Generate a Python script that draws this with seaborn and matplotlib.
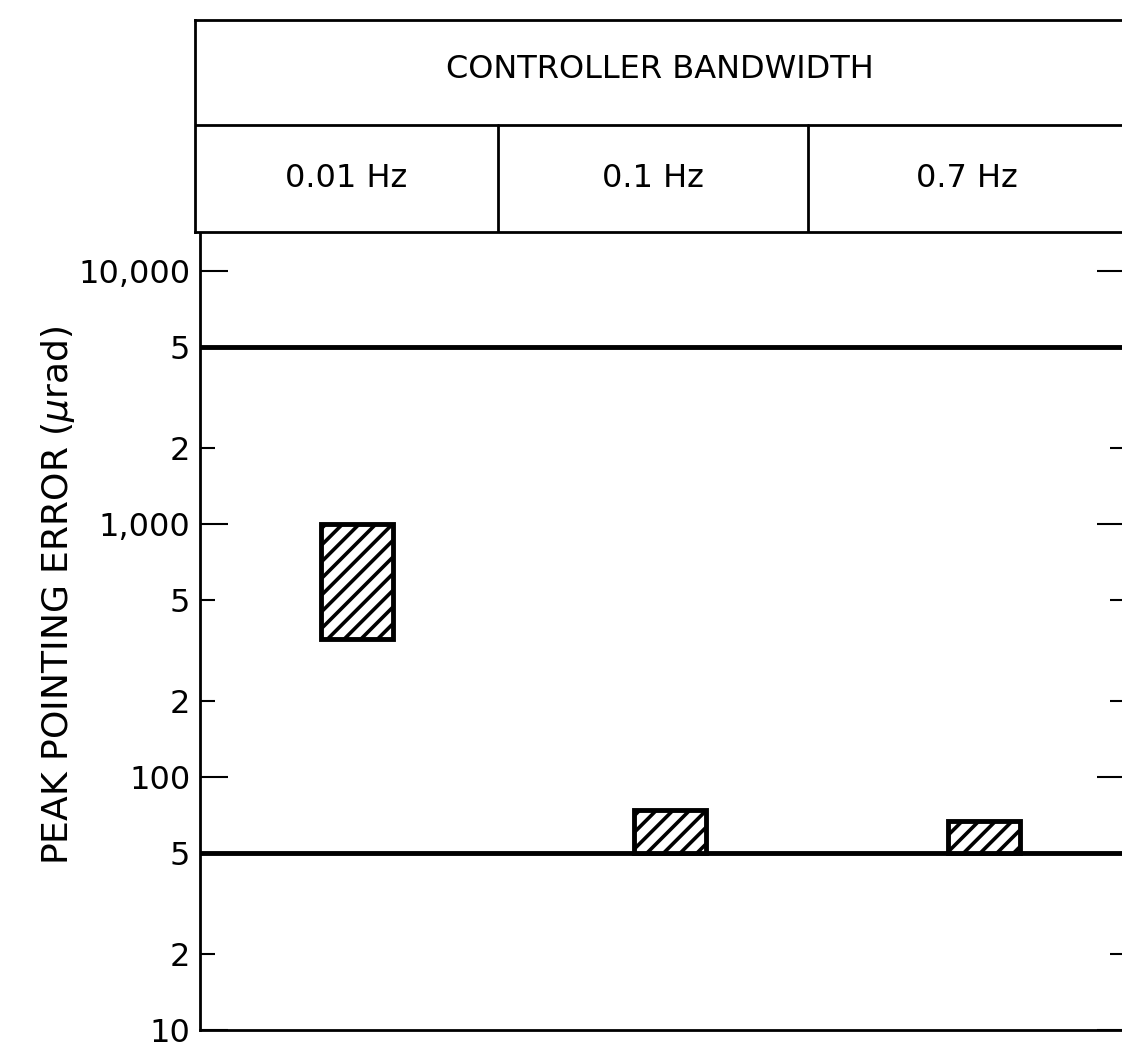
import matplotlib
matplotlib.use("Agg")
import matplotlib.pyplot as plt
import numpy as np
import pandas as pd
import seaborn as sns
from matplotlib.ticker import FixedLocator, FixedFormatter

sns.set_style("ticks")
plt.rcParams['font.family'] = ['DejaVu Sans']
plt.rcParams['hatch.linewidth'] = 2.6
plt.rcParams['hatch.color'] = 'black'
plt.rcParams['text.color'] = 'black'
plt.rcParams['axes.labelcolor'] = 'black'
plt.rcParams['ytick.color'] = 'black'
plt.rcParams['xtick.color'] = 'black'

# --- data ---
bandwidths = ['0.01 Hz', '0.1 Hz', '0.7 Hz']
error_low = [350, 50, 50]        # bottom of each error band (urad)
error_high = [1000, 74, 67]      # top of each error band (urad)
limit_lines = [50, 5000]         # heavy horizontal reference lines

major_ticks = [10, 100, 1000, 10000]
major_labels = ['10', '100', '1,000', '10,000']
minor_ticks = [20, 50, 200, 500, 2000, 5000]
minor_labels = ['2', '5', '2', '5', '2', '5']

header_title = 'CONTROLLER BANDWIDTH'

df = pd.DataFrame({'Bandwidth': bandwidths, 'Low': error_low, 'High': error_high})
df['Span'] = df['High'] - df['Low']

W, H = 1122, 1048
fig = plt.figure(figsize=(W / 100, H / 100), dpi=100)

# -------------------------------------------------------------------
# main plot
# -------------------------------------------------------------------
ax = fig.add_axes([200 / W, 18 / H, 925 / W, 798 / H])
ax.set_yscale('log')

sns.barplot(
    data=df, x='Bandwidth', y='Span',
    bottom=np.array(error_low, dtype=float),
    width=0.23, errorbar=None, color='white', saturation=1,
    facecolor='white', edgecolor='black', linewidth=3.5, hatch='//',
    ax=ax, zorder=3,
)

for v in limit_lines:
    ax.axhline(v, color='black', lw=3.5, zorder=2)

ax.set_xlim(-0.5, 2.45)
ax.set_ylim(10, 14260)
ax.set_xticks([])
ax.set_xlabel('')

ax.yaxis.set_major_locator(FixedLocator(major_ticks))
ax.yaxis.set_major_formatter(FixedFormatter(major_labels))
ax.yaxis.set_minor_locator(FixedLocator(minor_ticks))
ax.yaxis.set_minor_formatter(FixedFormatter(minor_labels))
ax.tick_params(axis='y', which='major', direction='in', length=20, width=1.5,
               labelsize=23, left=True, right=True, pad=7, color='black')
ax.tick_params(axis='y', which='minor', direction='in', length=11, width=1.5,
               labelsize=23, left=True, right=True, pad=7, color='black')

ax.set_ylabel(r'PEAK POINTING ERROR ($\mu$rad)', fontsize=26)
ax.yaxis.set_label_coords(-0.133, 0.545)

for side in ['left', 'bottom', 'right']:
    ax.spines[side].set_linewidth(2)
    ax.spines[side].set_color('black')
ax.spines['top'].set_visible(False)

# -------------------------------------------------------------------
# header table
# -------------------------------------------------------------------
hx0, hx1, hy0, hy1 = 195, 1125, 20, 232
hax = fig.add_axes([hx0 / W, 1 - hy1 / H, (hx1 - hx0) / W, (hy1 - hy0) / H])
hax.set_xlim(hx0, hx1)
hax.set_ylim(hy1, hy0)
hax.set_xticks([])
hax.set_yticks([])
for s in hax.spines.values():
    s.set_linewidth(2)
    s.set_color('black')

row_split = 125
cell_edges = [hx0, 498, 808, hx1]
hax.axhline(row_split, color='black', lw=2)
for xe in cell_edges[1:-1]:
    hax.plot([xe, xe], [row_split, hy1], color='black', lw=2)

hax.text((hx0 + hx1) / 2, (hy0 + row_split) / 2 - 3, header_title,
         ha='center', va='center', fontsize=23)
for i, lab in enumerate(bandwidths):
    cx = (cell_edges[i] + cell_edges[i + 1]) / 2
    hax.text(cx, (row_split + hy1) / 2, lab, ha='center', va='center', fontsize=23)

fig.savefig('out.png', dpi=100)
